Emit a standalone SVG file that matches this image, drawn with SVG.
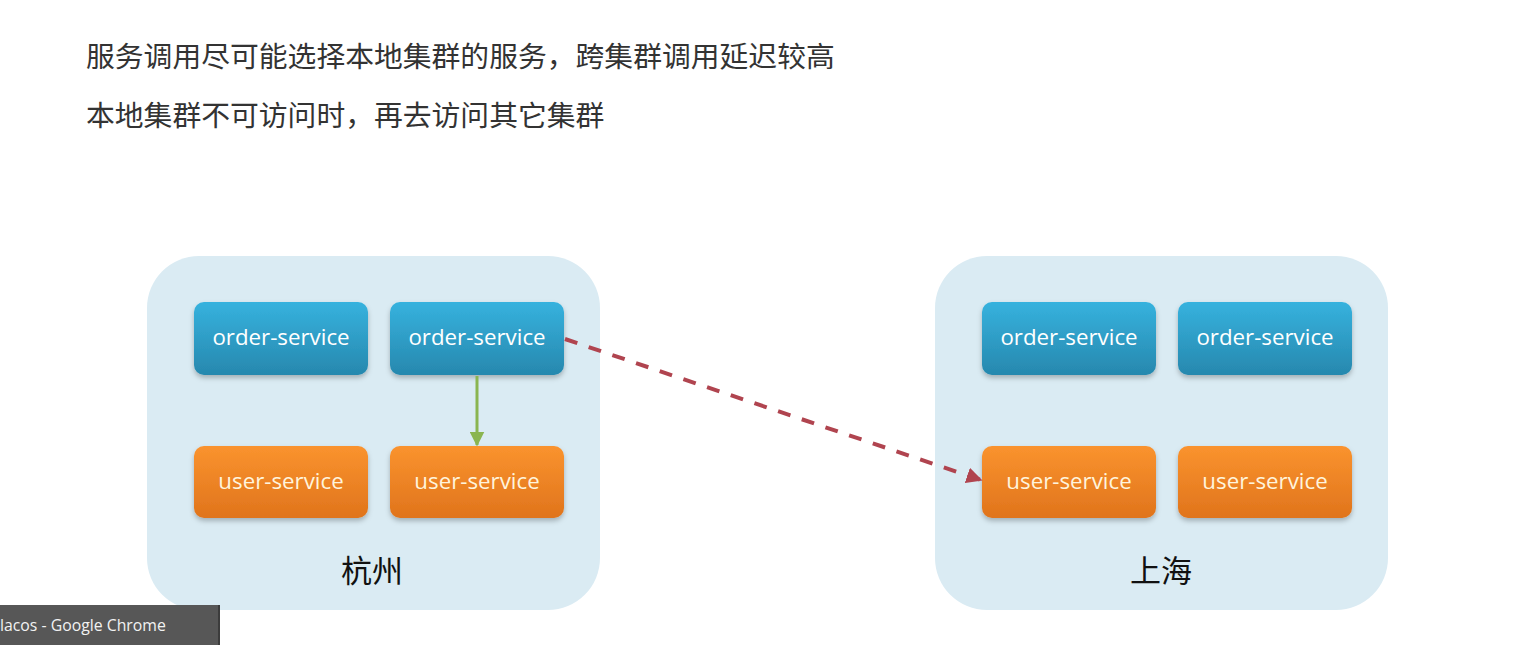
<svg xmlns="http://www.w3.org/2000/svg" width="1516" height="645" viewBox="0 0 1516 645">
<defs>
<linearGradient id="gOrder" x1="0" y1="0" x2="0" y2="1">
<stop offset="0" stop-color="#36b2de"/>
<stop offset="1" stop-color="#2788ae"/>
</linearGradient>
<linearGradient id="gUser" x1="0" y1="0" x2="0" y2="1">
<stop offset="0" stop-color="#fa932e"/>
<stop offset="1" stop-color="#e0741c"/>
</linearGradient>
<filter id="sh" x="-10%" y="-10%" width="120%" height="130%">
<feDropShadow dx="0" dy="3" stdDeviation="2.5" flood-color="#000" flood-opacity="0.25"/>
</filter>
<marker id="arrGreen" viewBox="0 0 10 10" refX="9" refY="5" markerWidth="5" markerHeight="5" orient="auto">
<path d="M0,0 L10,5 L0,10 z" fill="#8ab550"/>
</marker>
<marker id="arrRed" viewBox="0 0 10 10" refX="9" refY="5" markerWidth="4" markerHeight="4" orient="auto">
<path d="M0,0 L10,5 L0,10 z" fill="#b0444f"/>
</marker>
</defs>
<style>
.title{font-family:"Noto Sans CJK SC","Noto Sans",sans-serif;font-size:28.8px;fill:#333}
.cluster{fill:#daebf3}
.clabel{font-family:"Noto Sans CJK SC","Noto Sans",sans-serif;font-size:31px;fill:#111;text-anchor:middle}
.order{fill:url(#gOrder);filter:url(#sh)}
.user{fill:url(#gUser);filter:url(#sh)}
.btxt{font-family:"Open Sans","Noto Sans",sans-serif;font-size:22.3px;text-anchor:middle}
.otxt{fill:#ffffff}
.utxt{fill:#fff4dc}
</style>
<rect width="1516" height="645" fill="#ffffff"/>
<text class="title" x="86" y="67">服务调用尽可能选择本地集群的服务，跨集群调用延迟较高</text>
<text class="title" x="86" y="126">本地集群不可访问时，再去访问其它集群</text>

<g id="cluster-hangzhou">
<rect class="cluster" x="147" y="256" width="453" height="354" rx="52"/>
<text class="clabel" x="372" y="582">杭州</text>
</g>
<g id="cluster-shanghai">
<rect class="cluster" x="935" y="256" width="453" height="354" rx="52"/>
<text class="clabel" x="1161" y="582">上海</text>
</g>

<g id="hz-order-1">
<rect class="order" x="194" y="302" width="174" height="73" rx="10"/>
<text class="btxt otxt" x="281" y="345">order-service</text>
</g>
<g id="hz-order-2">
<rect class="order" x="390" y="302" width="174" height="73" rx="10"/>
<text class="btxt otxt" x="477" y="345">order-service</text>
</g>
<g id="hz-user-1">
<rect class="user" x="194" y="446" width="174" height="72" rx="10"/>
<text class="btxt utxt" x="281" y="489">user-service</text>
</g>
<g id="hz-user-2">
<rect class="user" x="390" y="446" width="174" height="72" rx="10"/>
<text class="btxt utxt" x="477" y="489">user-service</text>
</g>
<g id="sh-order-1">
<rect class="order" x="982" y="302" width="174" height="73" rx="10"/>
<text class="btxt otxt" x="1069" y="345">order-service</text>
</g>
<g id="sh-order-2">
<rect class="order" x="1178" y="302" width="174" height="73" rx="10"/>
<text class="btxt otxt" x="1265" y="345">order-service</text>
</g>
<g id="sh-user-1">
<rect class="user" x="982" y="446" width="174" height="72" rx="10"/>
<text class="btxt utxt" x="1069" y="489">user-service</text>
</g>
<g id="sh-user-2">
<rect class="user" x="1178" y="446" width="174" height="72" rx="10"/>
<text class="btxt utxt" x="1265" y="489">user-service</text>
</g>

<g id="connectors">
<line x1="477" y1="376" x2="477" y2="445" stroke="#8ab550" stroke-width="3" marker-end="url(#arrGreen)"/>
<line x1="565" y1="339" x2="981" y2="480" stroke="#b0444f" stroke-width="4" stroke-dasharray="13,12" marker-end="url(#arrRed)"/>
</g>

<g id="taskbar">
<rect x="0" y="605" width="218" height="40" fill="#575757"/>
<rect x="218" y="605" width="2" height="40" fill="#3c3c3c"/>
<text x="0" y="631" font-family="'Open Sans','Noto Sans',sans-serif" font-size="15.8" fill="#f2f2f2">lacos - Google Chrome</text>
</g>
</svg>
